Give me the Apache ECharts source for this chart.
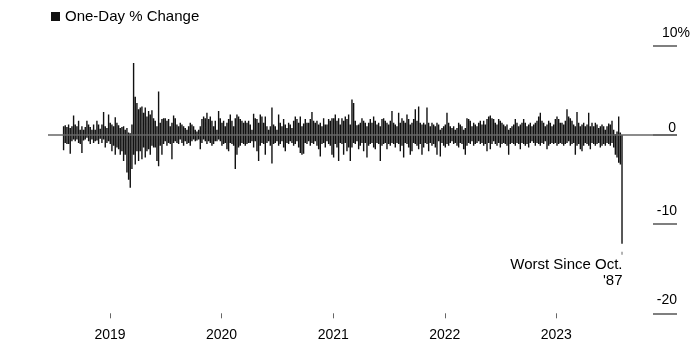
<!DOCTYPE html>
<html><head><meta charset="utf-8">
<script src="https://cdn.jsdelivr.net/npm/echarts@6/dist/echarts.min.js"></script>
<style>html,body{margin:0;padding:0;background:#fff}#c{width:700px;height:356px}</style>
</head><body><div id="c"></div>
<script>
const seriesName = 'One-Day % Change';
const yearLabels = ['2019', '2020', '2021', '2022', '2023'];
const yTickValues = [-20, -10, 0, 10];
const firstDay = '2018-08-02';
const lastDay = '2023-08-04';
const axisStart = '2018-06-12';
const axisEnd = '2024-01-31';
const annotation = ['Worst Since Oct.', "'87"];

// daily % moves: largest gain and largest loss within each short slice of time
const upA = [1.0,1.1,0.9,1.2,0.8,1.0,2.2,1.2,1.0,1.6, 0.6,1.0,0.6,0.9,1.6,1.2,0.9,0.6,1.2,0.6, 1.6,1.2,0.7,1.2,2.6,1.0,0.8,2.3,1.4,1.2, 1.0,2.0,1.4,1.1,0.8,0.9,1.0,0.6,0.8,0.3, 0.2,1.2,8.1,4.3,3.6,2.9,3.1,3.2,2.5,3.1, 2.1,2.7,2.3,2.8,1.9];
const downA = [-1.7,-0.9,-1.0,-1.0,-2.1,-0.7,-0.5,-0.7,-0.5,-0.9, -1.0,-2.0,-0.6,-0.5,-0.3,-0.7,-1.0,-0.5,-0.9,-0.7, -0.6,-1.0,-0.4,-0.9,-0.5,-1.4,-0.9,-0.7,-1.0,-1.8, -1.2,-2.2,-1.4,-1.6,-2.2,-1.8,-2.9,-2.2,-4.2,-5.0, -5.9,-3.8,-2.2,-3.3,-1.8,-2.9,-1.8,-2.7,-1.4,-2.5, -1.8,-1.6,-2.2,-1.2,-1.4];
const upB = [1.6,1.0,4.9,1.4,1.8,1.9,1.9,1.6,1.8,1.0, 1.4,2.2,1.9,1.2,1.0,1.4,1.2,1.0,0.8,0.6, 1.0,1.4,1.2,1.0,0.6,0.4,0.6,1.0,1.8,2.1, 1.9,2.5,1.8,2.1,1.6,1.0,1.6,0.6,2.7,1.9, 1.4,1.6,1.0,1.4,1.8,2.3,1.6,1.0,1.9,2.3, 2.1,1.8,1.6,1.4,1.6,1.4,1.6];
const downB = [-1.4,-2.9,-3.5,-1.2,-2.2,-1.0,-0.7,-1.2,-0.9,-1.0, -2.7,-0.9,-0.7,-0.9,-1.0,-0.5,-0.9,-1.2,-0.7,-1.0, -0.9,-1.2,-0.7,-0.5,-0.7,-0.6,-0.5,-1.6,-0.9,-0.5, -0.7,-1.0,-0.7,-0.9,-1.2,-1.0,-0.7,-0.7,-0.5,-0.7, -1.2,-1.0,-0.9,-1.6,-1.8,-0.9,-1.0,-1.2,-3.8,-2.2, -1.4,-1.2,-0.9,-1.0,-1.2,-1.0,-0.9];
const upC = [1.2,0.6,2.4,1.9,1.8,1.4,2.3,2.1,1.4,2.1, 1.0,0.6,1.0,3.1,1.2,1.0,0.6,2.3,1.4,1.0, 1.8,1.2,0.8,1.4,1.2,0.8,1.6,2.1,1.8,1.4, 2.1,1.0,1.3,1.8,1.4,1.4,1.8,2.6,1.6,1.4, 1.6,1.2,1.4,1.0,1.9,1.2,1.2,1.8,1.6,1.9, 1.9,2.3,1.6,1.9,1.2,1.9,1.6];
const downC = [-0.9,-0.7,-1.4,-0.7,-1.8,-2.9,-1.2,-0.9,-1.0,-2.2, -0.9,-0.7,-1.2,-3.2,-1.0,-0.9,-0.7,-1.2,-1.0,-0.7, -1.4,-1.8,-0.9,-1.0,-0.7,-0.9,-1.2,-1.0,-0.7,-1.4, -2.0,-2.2,-2.1,-0.9,-1.0,-0.7,-1.2,-0.9,-1.0,-0.7, -1.2,-1.6,-2.4,-1.0,-0.9,-1.4,-0.7,-1.0,-1.2,-2.2, -2.5,-1.0,-1.4,-2.9,-0.9,-1.0,-2.2];
const upD = [2.1,1.8,2.3,1.2,4.0,3.6,1.6,1.1,1.2,1.4, 1.9,1.6,1.4,1.0,1.4,1.8,1.4,2.1,1.6,1.2, 1.4,1.0,1.8,1.9,1.6,1.4,1.2,1.6,2.7,1.4, 1.2,1.0,2.5,1.4,1.9,1.6,1.4,2.3,1.8,1.2, 1.4,1.8,2.9,1.6,3.2,1.4,1.2,1.4,1.2,3.1, 1.4,1.0,1.4,1.2,1.0,1.4,1.2];
const downD = [-0.9,-1.8,-1.4,-2.9,-1.4,-0.9,-1.0,-0.7,-1.6,-1.2, -0.9,-1.8,-0.9,-2.5,-1.2,-1.0,-0.9,-1.4,-1.6,-0.9, -1.0,-2.9,-1.2,-1.0,-0.9,-1.6,-1.0,-1.2,-0.9,-1.0, -1.4,-0.9,-1.0,-1.8,-1.2,-2.5,-0.9,-1.0,-1.4,-2.2, -1.8,-0.9,-1.0,-1.2,-1.6,-1.0,-2.2,-1.4,-0.9,-1.0, -1.8,-0.9,-1.2,-1.0,-1.4,-2.2,-0.7];
const upE = [0.6,0.8,1.0,1.2,2.5,1.4,1.0,0.8,1.0,0.6, 0.8,1.4,1.2,1.0,0.6,0.8,1.9,1.8,1.6,1.0, 1.4,1.2,1.0,1.4,1.6,1.2,1.6,1.2,1.8,2.1, 2.2,1.9,1.8,1.4,1.2,1.8,1.6,1.4,1.2,1.0, 1.2,0.6,0.8,1.0,1.2,1.8,1.4,1.0,1.2,1.4, 1.8,1.4,1.0,1.2,1.4,1.0,1.2];
const downE = [-2.4,-0.9,-1.2,-1.4,-1.0,-1.2,-0.9,-0.7,-1.0,-0.9, -1.2,-1.4,-0.9,-1.0,-1.6,-2.2,-1.2,-0.9,-1.0,-0.7, -1.2,-1.0,-0.9,-0.7,-1.0,-0.9,-1.2,-1.0,-1.8,-0.9, -1.6,-1.0,-0.7,-1.0,-1.2,-0.9,-1.4,-1.0,-0.9,-1.0, -1.2,-2.2,-1.0,-0.9,-1.0,-1.2,-0.9,-1.0,-1.6,-0.9, -1.0,-1.2,-1.0,-1.4,-0.9,-0.7,-0.9];
const upF = [1.4,1.6,2.1,2.5,1.6,1.4,1.0,1.2,1.6,1.4, 1.0,1.2,1.8,2.1,1.8,1.4,1.4,1.2,1.6,2.9, 2.1,1.9,1.6,1.2,1.0,2.6,1.4,1.0,1.2,1.4, 1.0,1.2,2.5,1.0,1.4,1.0,1.4,1.2,0.8,1.0, 1.2,1.0,0.6,1.0,1.3,1.2,1.6,0.6,0.1,0.4, 2.1,0.3];
const downF = [-1.2,-0.9,-1.0,-1.2,-0.9,-1.0,-0.7,-1.6,-1.2,-1.0, -0.9,-1.0,-0.9,-1.2,-1.0,-0.9,-1.0,-1.2,-1.0,-0.9, -0.7,-1.2,-1.0,-0.9,-2.2,-1.2,-1.0,-1.6,-1.8,-1.2, -0.9,-1.0,-1.2,-1.6,-0.9,-1.0,-1.2,-1.0,-0.9,-1.4, -1.2,-1.0,-1.2,-0.9,-1.0,-1.2,-0.9,-1.4,-2.2,-2.5, -3.1,-3.3];
const finalDay = -12.2;

function localTime(s) {
  const p = s.split('-').map(Number);
  return new Date(p[0], p[1] - 1, p[2]).getTime();
}

const ups = [].concat(upA, upB, upC, upD, upE, upF);
const downs = [].concat(downA, downB, downC, downD, downE, downF);
const t0 = localTime(firstDay), t1 = localTime(lastDay);
const step = (t1 - t0) / ups.length;
const data = [];
for (let i = 0; i < ups.length; i++) {
  const t = t0 + i * step;
  data.push([t, ups[i]], [t, downs[i]]);
}
data.push([t1, finalDay]);
const yearTimes = yearLabels.map(y => localTime(y + '-01-01'));

const chart = echarts.init(document.getElementById('c'), null, {renderer: 'canvas'});
const FONT = '"Liberation Sans", Arial, Helvetica, sans-serif';
chart.setOption({
  animation: false,
  textStyle: {fontFamily: FONT},
  legend: {
    left: 51, top: 9, padding: 0, icon: 'rect', itemWidth: 9, itemHeight: 9, itemGap: 0,
    textStyle: {fontSize: 15, color: '#000', fontFamily: FONT},
    data: [seriesName], selectedMode: false
  },
  grid: {left: 48, right: 23, top: 46, bottom: 42.7},
  xAxis: {
    type: 'value', min: localTime(axisStart), max: localTime(axisEnd), scale: true,
    axisLine: {show: true, onZero: false, lineStyle: {color: 'rgba(0,0,0,0)'}},
    splitLine: {show: false},
    axisTick: {show: true, length: 5, lineStyle: {color: '#666', width: 1}, customValues: yearTimes},
    axisLabel: {customValues: yearTimes, formatter: v => String(new Date(v).getFullYear()),
      fontSize: 14, color: '#000', margin: 15, fontFamily: FONT}
  },
  yAxis: {
    type: 'value', position: 'right', min: yTickValues[0], max: yTickValues[yTickValues.length - 1], interval: 10,
    splitLine: {show: false}, axisLine: {show: false},
    axisTick: {show: true, inside: true, length: 24, lineStyle: {color: '#555', width: 1.5}},
    axisLabel: {
      inside: true, margin: -13,
      formatter: v => v === 10 ? '{a|' + v + '%}' : (v === 0 ? '{z|0}' : '{b|' + v + '}'),
      rich: {
        a: {fontSize: 14, color: '#000', fontFamily: FONT, padding: [0, 0, 26, 0]},
        b: {fontSize: 14, color: '#000', fontFamily: FONT, padding: [0, 13, 26, 0]},
        z: {fontSize: 14, color: '#000', fontFamily: FONT, padding: [0, 14, 13, 0]}
      }
    }
  },
  series: [{
    type: 'bar', name: seriesName, data: data, barWidth: 1.4,
    large: true, largeThreshold: 100,
    itemStyle: {color: '#111'},
    markLine: {
      silent: true, symbol: ['none', 'none'], label: {show: false},
      lineStyle: {color: '#666', width: 1.5, type: 'solid'},
      data: [{yAxis: 0}]
    },
    markPoint: {
      symbol: 'circle', symbolSize: 0, silent: true,
      data: [{type: 'min'}],
      label: {
        show: true, position: 'inside', align: 'right', verticalAlign: 'top', offset: [0.5, 5.5],
        formatter: () => '{c|}\n{t|' + annotation[0] + '}\n{t|' + annotation[1] + '}',
        rich: {
          c: {width: 1, height: 3, lineHeight: 8, backgroundColor: '#666'},
          t: {fontSize: 15, lineHeight: 16, color: '#000', fontFamily: FONT}
        }
      }
    }
  }]
});
</script></body></html>
